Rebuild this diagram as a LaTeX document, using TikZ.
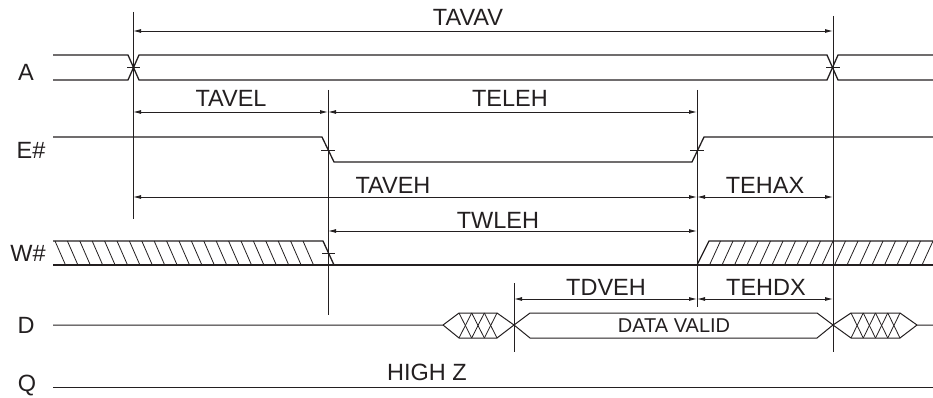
\documentclass[tikz,border=0pt]{standalone}
\usepackage{fontspec}
\setmainfont{Liberation Sans}
\usetikzlibrary{arrows.meta}
\definecolor{ink}{HTML}{231F20}
\tikzset{
  sig/.style={draw=ink, line width=1.3pt, line join=miter},
  thinsig/.style={draw=ink, line width=1.0pt},
  guide/.style={draw=ink, line width=0.9pt},
  hatch/.style={draw=ink, line width=0.8pt},
  dimline/.style={draw=ink, line width=0.9pt, {Latex[length=8pt,width=4pt]}-{Latex[length=8pt,width=4pt]}},
  lbl/.style={font=\fontsize{23.5}{23.5}\selectfont, text=ink, inner sep=0pt},
  smalllbl/.style={font=\fontsize{20}{20}\selectfont, text=ink, inner sep=0pt}
}
\begin{document}
\begin{tikzpicture}[x=1pt, y=-1pt]
\useasboundingbox (0,0) rectangle (933,398);

% signal names
\node[lbl] (nA) at (26,72) {A};
\node[lbl] (nE) at (31,150) {E\#};
\node[lbl] (nW) at (28,253) {W\#};
\node[lbl] (nD) at (26,325) {D};
\node[lbl] (nQ) at (27,386) {Q};

% reference verticals
\coordinate (v1t) at (133,12);  \coordinate (v1b) at (133,219);
\coordinate (v2t) at (328,90);  \coordinate (v2b) at (328,315);
\coordinate (v3t) at (697,90);  \coordinate (v3b) at (697,307);
\coordinate (v4t) at (514,283); \coordinate (v4b) at (514,352);
\coordinate (v5t) at (833,16);  \coordinate (v5b) at (833,352);
\draw[guide] (v1t) -- (v1b);
\draw[guide] (v2t) -- (v2b);
\draw[guide] (v3t) -- (v3b);
\draw[guide] (v4t) -- (v4b);
\draw[guide] (v5t) -- (v5b);

% A
\draw[sig] (53,55) -- (128,55) -- (139,80) -- (827,80) -- (838,55) -- (933,55);
\draw[sig] (53,80) -- (128,80) -- (139,55) -- (827,55) -- (838,80) -- (933,80);
\draw[guide] (127,67) -- (140,67);
\draw[guide] (826,67) -- (840,67);

% E#
\draw[sig] (53,137) -- (322,137) -- (334,162) -- (692,162) -- (704,137) -- (933,137);
\draw[guide] (321,150) -- (335,150);
\draw[guide] (690,150) -- (704,150);

% W#
\draw[sig] (53,241) -- (323,241) -- (334,265);
\draw[sig] (53,265) -- (933,265);
\draw[sig] (697,265) -- (709,241) -- (933,241);
\foreach \x in {55,67.4,...,312} \draw[hatch] (\x,241) -- (\x+10.5,265);
\foreach \x in {709.5,722,...,925} \draw[hatch] (\x,265) -- (\x+11,241);
\draw[guide] (322,253) -- (335,253);

% D
\draw[thinsig] (53,325) -- (443,325) -- (459,313) -- (497,313) -- (514,325) -- (530,313) -- (817,313) -- (833,325) -- (851,313) -- (900,313) -- (917,325) -- (933,325);
\draw[thinsig] (443,325) -- (459,338) -- (497,338) -- (514,325) -- (530,338) -- (817,338) -- (833,325) -- (851,338) -- (900,338) -- (917,325);
\foreach \a in {459,471.67,484.33} {
  \draw[hatch] (\a,313) -- (\a+12.67,338);
  \draw[hatch] (\a+12.67,313) -- (\a,338);
}
\foreach \a in {851,863.25,875.5,887.75} {
  \draw[hatch] (\a,313) -- (\a+12.25,338);
  \draw[hatch] (\a+12.25,313) -- (\a,338);
}
\node[smalllbl] (dv) at (674,326) {DATA VALID};

% Q
\draw[thinsig] (53,387) -- (933,387);
\node[lbl] (hz) at (427,372) {HIGH Z};

% dimension arrows
\coordinate (tavavL) at (133,31);  \coordinate (tavavR) at (833,31);
\coordinate (tavelL) at (133,112); \coordinate (tavelR) at (328,112);
\coordinate (telehL) at (328,112); \coordinate (telehR) at (697,112);
\coordinate (tavehL) at (133,197); \coordinate (tavehR) at (697,197);
\coordinate (tehaxL) at (697,197); \coordinate (tehaxR) at (833,197);
\coordinate (twlehL) at (328,231); \coordinate (twlehR) at (697,231);
\coordinate (tdvehL) at (514,299); \coordinate (tdvehR) at (697,299);
\coordinate (tehdxL) at (697,299); \coordinate (tehdxR) at (833,299);
\draw[dimline] (tavavL) -- (tavavR);
\draw[dimline] (tavelL) -- (tavelR);
\draw[dimline] (telehL) -- (telehR);
\draw[dimline] (tavehL) -- (tavehR);
\draw[dimline] (tehaxL) -- (tehaxR);
\draw[dimline] (twlehL) -- (twlehR);
\draw[dimline] (tdvehL) -- (tdvehR);
\draw[dimline] (tehdxL) -- (tehdxR);

\node[lbl] (lTAVAV) at (468,17) {TAVAV};
\node[lbl] (lTAVEL) at (231,98) {TAVEL};
\node[lbl] (lTELEH) at (510,98) {TELEH};
\node[lbl] (lTAVEH) at (393,185) {TAVEH};
\node[lbl] (lTEHAX) at (765,185) {TEHAX};
\node[lbl] (lTWLEH) at (498,220) {TWLEH};
\node[lbl] (lTDVEH) at (606,287) {TDVEH};
\node[lbl] (lTEHDX) at (766,287) {TEHDX};
\end{tikzpicture}
\end{document}
